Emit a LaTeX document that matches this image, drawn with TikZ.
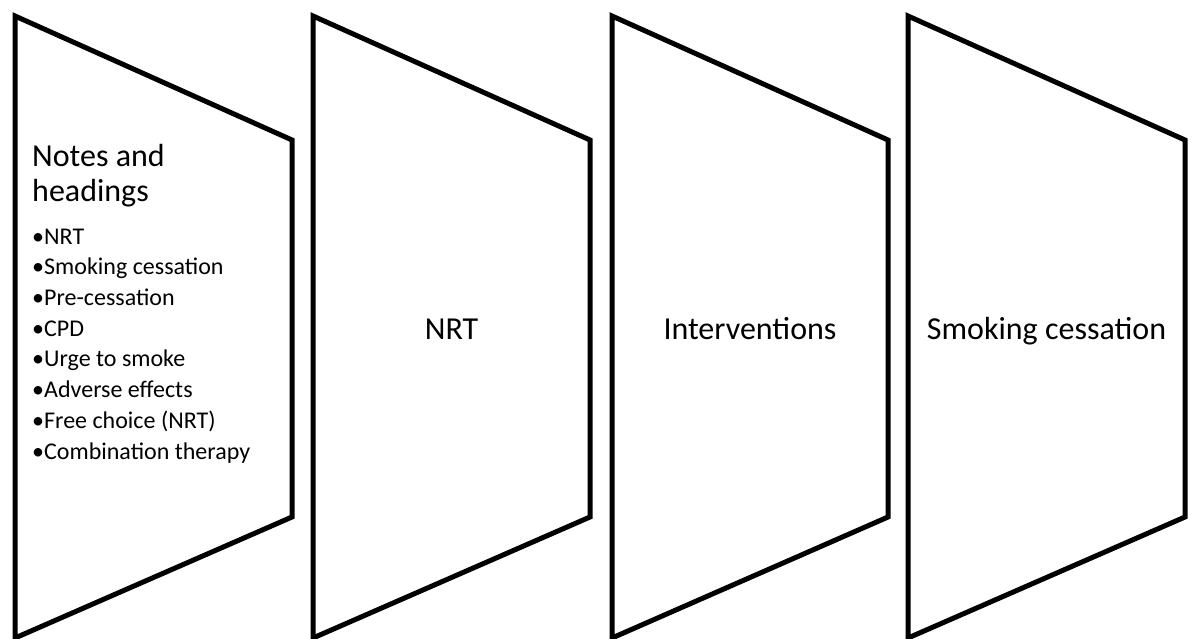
\documentclass[tikz,border=0pt]{standalone}
\usepackage{fontspec}
\setmainfont{Carlito}
\usepackage{tikz,xcolor}
\usetikzlibrary{calc}

\tikzset{panel/.style={black,line width=5pt,line join=miter},
  biglabel/.style={font=\fontsize{32}{35}\selectfont,inner sep=0pt},
  smalllabel/.style={font=\fontsize{24}{30.7}\selectfont,inner sep=0pt,align=left}}

\begin{document}
\begin{tikzpicture}[x=1pt,y=-1pt]
\useasboundingbox (0,0) rectangle (1192,639);
% first panel
\draw[panel] (15,16) -- (292,140) -- (292,517) -- (15,638) -- cycle;
% Duplicate and move to the right
\draw[panel] (313,16) -- (590,140) -- (590,517) -- (313,638) -- cycle;
\draw[panel] (612,16) -- (888,140) -- (888,517) -- (612,638) -- cycle;
\draw[panel] (908,16) -- (1185,140) -- (1185,517) -- (908,638) -- cycle;
% base of a two line node is its last line
\node[biglabel,anchor=base west,align=left] (notes) at (32,202) {Notes and\\headings};
\node[smalllabel,anchor=base west] (bullets) at (32,459) {%
\makebox[12pt][l]{•}NRT\\
\makebox[12pt][l]{•}Smoking cessation\\
\makebox[12pt][l]{•}Pre-cessation\\
\makebox[12pt][l]{•}CPD\\
\makebox[12pt][l]{•}Urge to smoke\\
\makebox[12pt][l]{•}Adverse effects\\
\makebox[12pt][l]{•}Free choice (NRT)\\
\makebox[12pt][l]{•}Combination therapy};
%
\node[biglabel,anchor=base] (nrt) at (451.5,339) {NRT};
\node[biglabel,anchor=base] (interv) at (750,339) {Interventions};
\node[biglabel,anchor=base] (cessation) at (1046.5,339) {Smoking cessation};
\end{tikzpicture}
\end{document}
